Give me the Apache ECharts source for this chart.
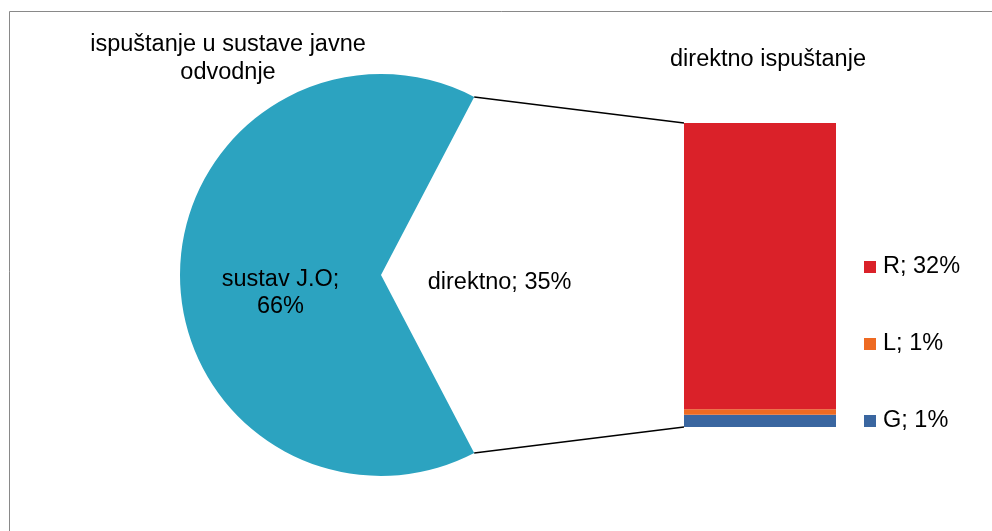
<!DOCTYPE html>
<html>
<head>
<meta charset="utf-8">
<script src="https://cdn.jsdelivr.net/npm/echarts@6/dist/echarts.min.js"></script>
<style>
html,body{margin:0;padding:0;background:#fff;}
#main{width:992px;height:531px;}
</style>
</head>
<body>
<div id="main"></div>
<script>
// ---- data ----
const pieCategories = ['direktno', 'sustav J.O'];
const pieValues = [35, 66];
const barCategories = ['G', 'L', 'R'];          // stacked bottom -> top
const barValues = [1.4, 0.6, 32.4];
const barShownPercents = [1, 1, 32];
const leftTitle = 'ispuštanje u sustave javne\nodvodnje';
const rightTitle = 'direktno ispuštanje';

// ---- styling / layout ----
const FONT = '"Liberation Sans", Arial, sans-serif';
const FS = 23.5;
const pieColor = '#2CA3C0';
const barColors = {G: '#3A66A0', L: '#EE6A22', R: '#DA2129'};
const pieCenter = [381, 275];
const pieRadius = 201;
const grid = {left: 684, top: 123, width: 152, height: 304};
// label anchor: fraction of radius along slice mid-angle, plus small pixel nudge
const pieLabelPlace = [{frac: 0.59, dy: 8}, {frac: 0.5, dy: 18}];

const pieTotal = pieValues.reduce((a, b) => a + b, 0);
const halfAngle = 360 * pieValues[0] / pieTotal / 2;
const barTotal = barValues.reduce((a, b) => a + b, 0);

const legendNames = barCategories.map((c, i) => c + '; ' + barShownPercents[i] + '%');

const chart = echarts.init(document.getElementById('main'), null, {renderer: 'canvas'});

const pieData = pieCategories.map((name, i) => ({
  name: name,
  value: pieValues[i],
  itemStyle: {color: i === 0 ? 'rgba(255,255,255,0)' : pieColor, borderWidth: 0}
}));

const barSeries = barCategories.map((c, i) => ({
  name: legendNames[i],
  type: 'bar',
  stack: 'd',
  barWidth: '100%',
  silent: true,
  itemStyle: {color: barColors[c]},
  data: [barValues[i]]
}));

chart.setOption({
  animation: false,
  backgroundColor: '#fff',
  grid: Object.assign({containLabel: false}, grid),
  xAxis: {type: 'category', data: [''], show: false},
  yAxis: {type: 'value', min: 0, max: barTotal, show: false},
  legend: {
    orient: 'vertical',
    left: 859,
    top: 250,
    itemWidth: 12,
    itemHeight: 12,
    itemGap: 53,
    icon: 'rect',
    selectedMode: false,
    data: legendNames.slice().reverse(),
    textStyle: {fontFamily: FONT, fontSize: FS, color: '#000', lineHeight: 24, padding: [0, 0, 0, 2]}
  },
  series: [
    {
      type: 'pie',
      center: pieCenter,
      radius: pieRadius,
      startAngle: halfAngle,
      clockwise: true,
      avoidLabelOverlap: false,
      silent: true,
      emphasis: {disabled: true},
      label: {show: false},
      labelLine: {show: false},
      data: pieData
    }
  ].concat(barSeries)
});

// pie labels placed along each slice's mid-angle (derived from data)
const pieLabels = [];
let acc = halfAngle;
pieValues.forEach((v, i) => {
  const sweep = 360 * v / pieTotal;
  const mid = (acc - sweep / 2) * Math.PI / 180;
  acc -= sweep;
  const p = pieLabelPlace[i];
  const text = i === 0 ? (pieCategories[i] + '; ' + v + '%') : (pieCategories[i] + ';\n' + v + '%');
  pieLabels.push({
    type: 'text', silent: true, z: 10,
    x: pieCenter[0] + p.frac * pieRadius * Math.cos(mid),
    y: pieCenter[1] - p.frac * pieRadius * Math.sin(mid) + p.dy,
    style: {text: text, font: FS + 'px ' + FONT, fill: '#000', textAlign: 'center', textVerticalAlign: 'middle', lineHeight: 27}
  });
});

// connectors + titles + frame
const a = halfAngle * Math.PI / 180;
const pTop = [pieCenter[0] + pieRadius * Math.cos(a), pieCenter[1] - pieRadius * Math.sin(a)];
const pBot = [pieCenter[0] + pieRadius * Math.cos(a), pieCenter[1] + pieRadius * Math.sin(a)];
const barTop = chart.convertToPixel({xAxisIndex: 0, yAxisIndex: 0}, [0, barTotal]);
const barBot = chart.convertToPixel({xAxisIndex: 0, yAxisIndex: 0}, [0, 0]);
const barLeft = grid.left;

chart.setOption({
  graphic: [
    {type: 'rect', silent: true, shape: {x: 9.5, y: 11.5, width: 1000, height: 600},
     style: {fill: null, stroke: '#898989', lineWidth: 1}},
    {type: 'line', silent: true, shape: {x1: pTop[0], y1: pTop[1], x2: barLeft, y2: barTop[1]},
     style: {stroke: '#000', lineWidth: 1.5}},
    {type: 'line', silent: true, shape: {x1: pBot[0], y1: pBot[1], x2: barLeft, y2: barBot[1]},
     style: {stroke: '#000', lineWidth: 1.5}},
    {type: 'text', silent: true, x: 228, y: 59,
     style: {text: leftTitle, font: FS + 'px ' + FONT, fill: '#000', textAlign: 'center', textVerticalAlign: 'middle', lineHeight: 28}},
    {type: 'text', silent: true, x: 768, y: 60,
     style: {text: rightTitle, font: FS + 'px ' + FONT, fill: '#000', textAlign: 'center', textVerticalAlign: 'middle'}}
  ].concat(pieLabels)
});
</script>
</body>
</html>
